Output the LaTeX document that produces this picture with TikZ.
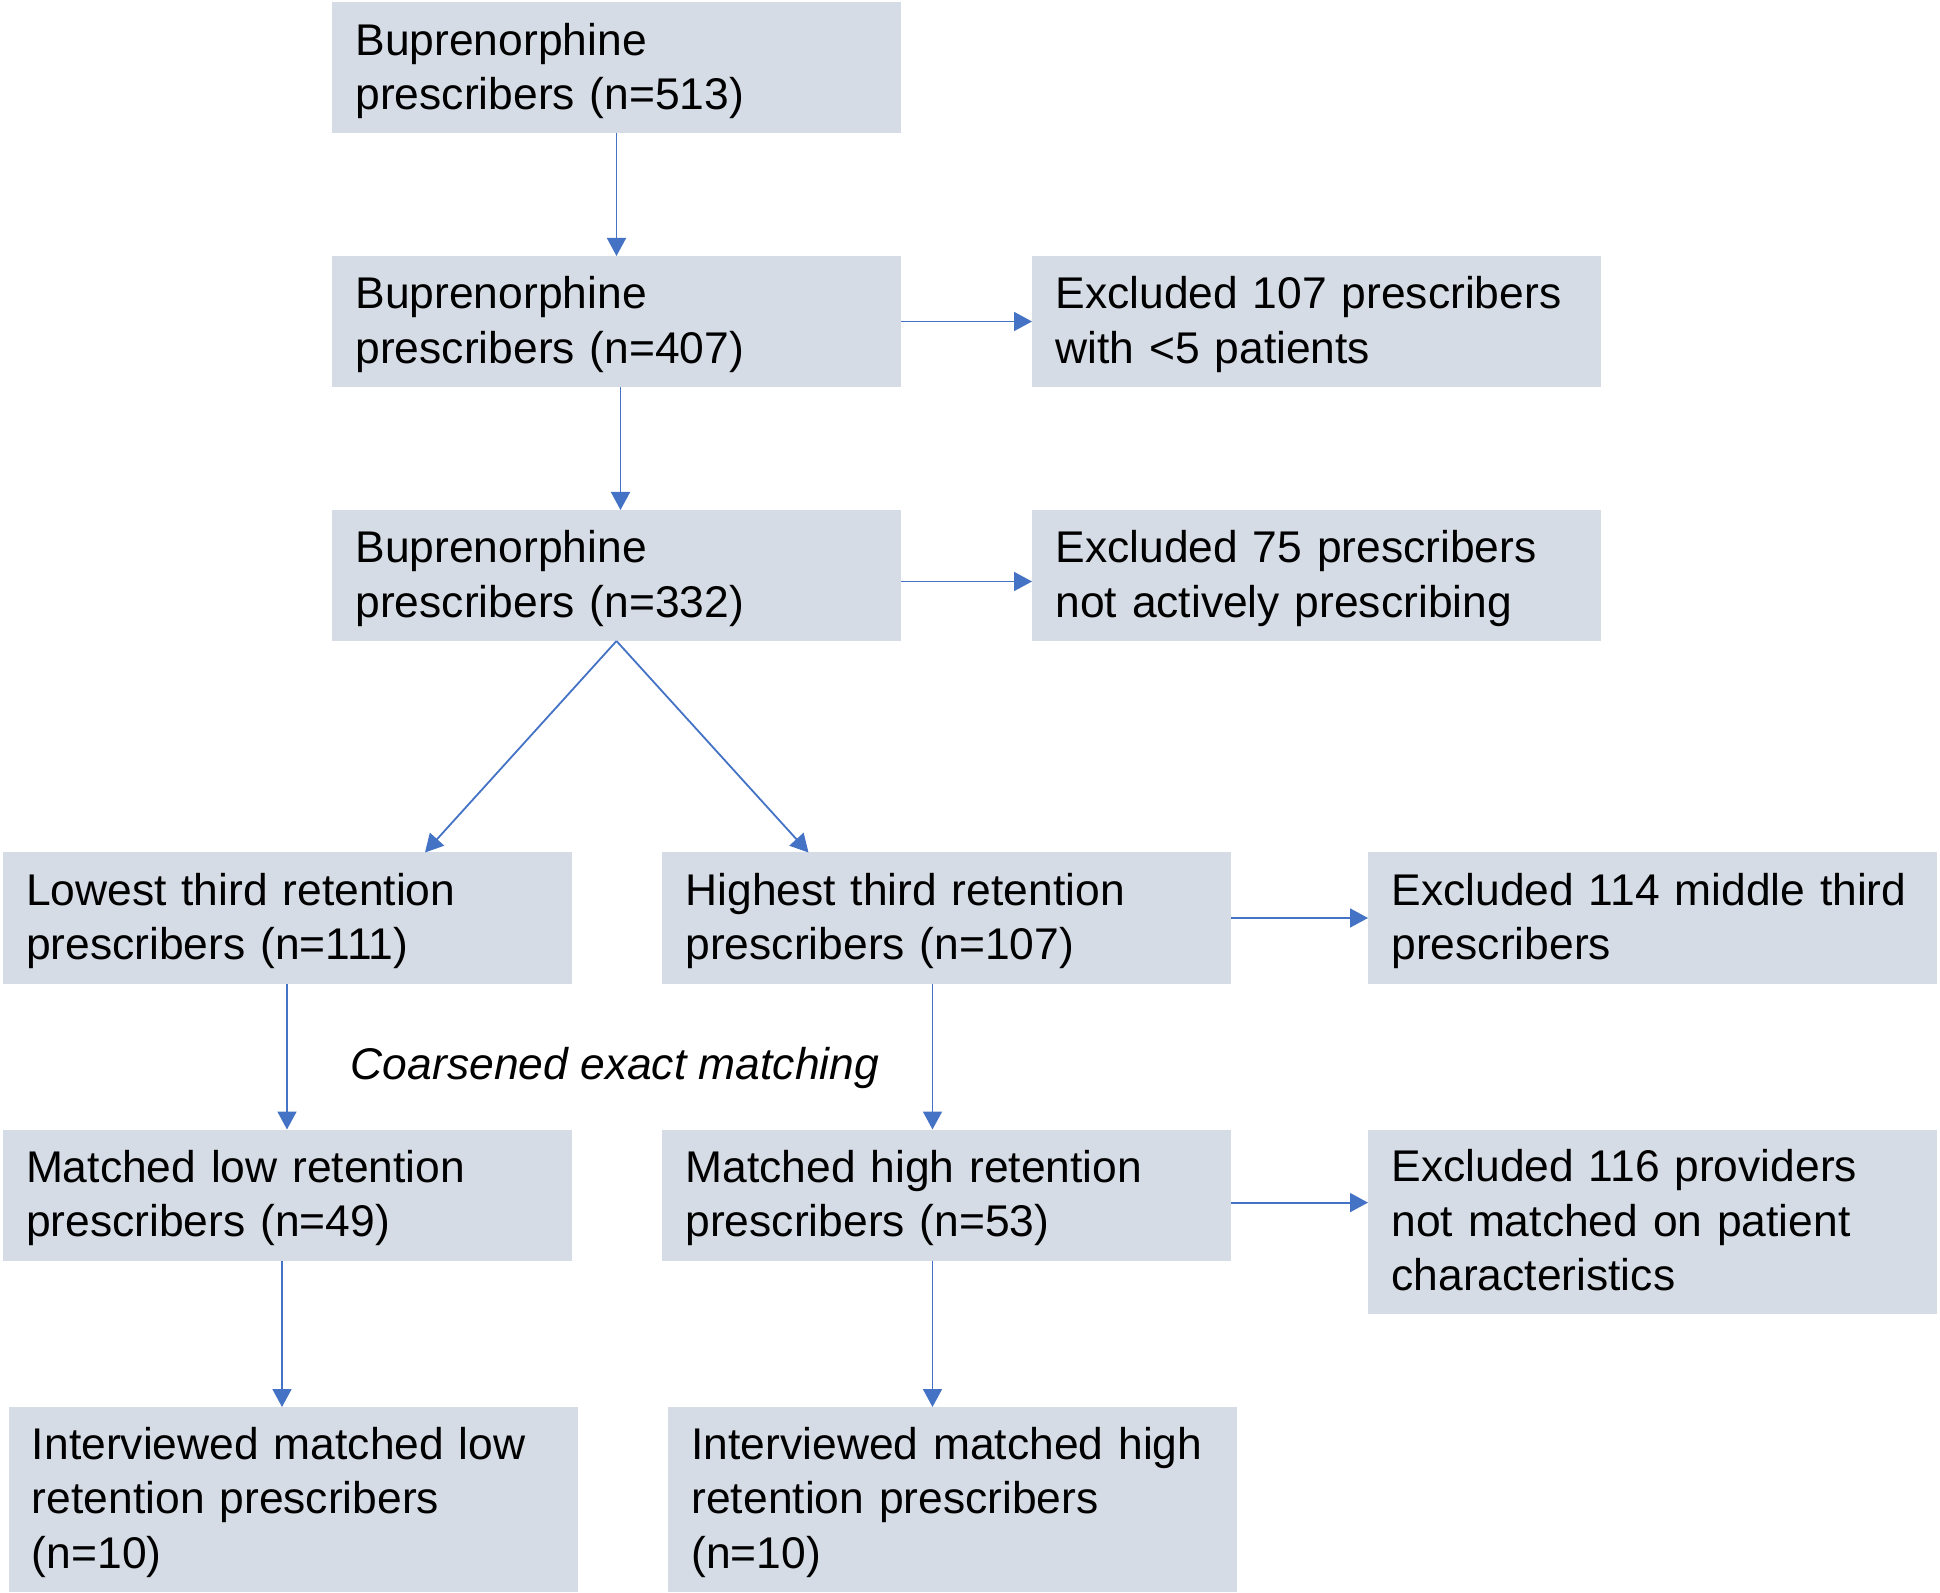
\documentclass[tikz,border=0pt]{standalone}
\usepackage{fontspec}
\setmainfont{Liberation Sans}
\usepackage{xcolor}
\usetikzlibrary{arrows.meta, positioning, calc}

\definecolor{boxfill}{HTML}{D6DCE5}
\definecolor{arrowblue}{HTML}{4472C4}

\begin{document}
\begin{tikzpicture}[x=0.5pt, y=-0.5pt,
    box/.style={rectangle, fill=boxfill, anchor=north west, outer sep=0pt,
        inner xsep=11.75pt, inner ysep=0pt, text width=261pt, align=left,
        minimum height=65.5pt, font=\fontsize{22.2}{27.2}\selectfont,
        execute at begin node={\vrule width 0pt height 20.6pt},
        execute at end node={\vrule width 0pt height 0pt depth 6pt}},
    tallbox/.style={box, minimum height=92.25pt},
    arrow/.style={-{Triangle[length=9pt,width=9.5pt]}, line width=0.9pt, draw=arrowblue}
]
    \useasboundingbox (0,0) rectangle (1940,1593);

    \node[box] (b513) at (332,2.5) {Buprenorphine\\prescribers (n=513)};
    \node[box] (b407) at (332,256) {Buprenorphine\\prescribers (n=407)};
    \node[box] (x107) at (1032,256) {Excluded 107 prescribers\\with <5 patients};
    \node[box] (b332) at (332,510) {Buprenorphine\\prescribers (n=332)};
    \node[box] (x75) at (1032,510) {Excluded 75 prescribers\\not actively prescribing};

    \node[box] (low) at (2.5,852.5) {Lowest third retention\\prescribers (n=111)};
    \node[box] (high) at (662,852.5) {Highest third retention\\prescribers (n=107)};
    \node[box] (x114) at (1368,852.5) {Excluded 114 middle third\\prescribers};

    \node[box] (mlow) at (2.5,1129.5) {Matched low retention\\prescribers (n=49)};
    \node[box] (mhigh) at (662,1129.5) {Matched high retention\\prescribers (n=53)};
    \node[tallbox] (x116) at (1368,1129.5) {Excluded 116 providers\\not matched on patient\\characteristics};

    \node[tallbox] (ilow) at (8.5,1407) {Interviewed matched low\\retention prescribers\\(n=10)};
    \node[tallbox] (ihigh) at (668,1407) {Interviewed matched high\\retention prescribers\\(n=10)};

    \node[font=\fontsize{22.2}{27.2}\selectfont\itshape] (cem) at (615,1068) {Coarsened exact matching};

    % main flow
    \draw[arrow] (b513) -- (b407);
    \draw[arrow] ([xshift=2pt]b407.south) -- ([xshift=2pt]b332.north);
    \draw[arrow] (b407) -- (x107);
    \draw[arrow] ([yshift=-3pt]b332.east) -- ([yshift=-3pt]x75.west);

    % split by retention
    \draw[arrow] (b332.south) -- ([xshift=69pt]low.north);
    \draw[arrow] (b332.south) -- ([xshift=-69pt]high.north);
    \draw[arrow] (high) -- (high -| x114.west);

    % matching
    \draw[arrow] (low) -- (mlow);
    \draw[arrow] ([xshift=-7pt]high.south) -- ([xshift=-7pt]mhigh.north);
    \draw[arrow] ([yshift=-3.8pt]mhigh.east) -- ([yshift=-3.8pt]mhigh.east -| x116.west);

    % interviews
    \draw[arrow] ([xshift=-2.5pt]mlow.south) -- ([xshift=-2.5pt]mlow.south |- ilow.north);
    \draw[arrow] ([xshift=-7pt]mhigh.south) -- ([xshift=-7pt]mhigh.south |- ihigh.north);
\end{tikzpicture}
\end{document}
